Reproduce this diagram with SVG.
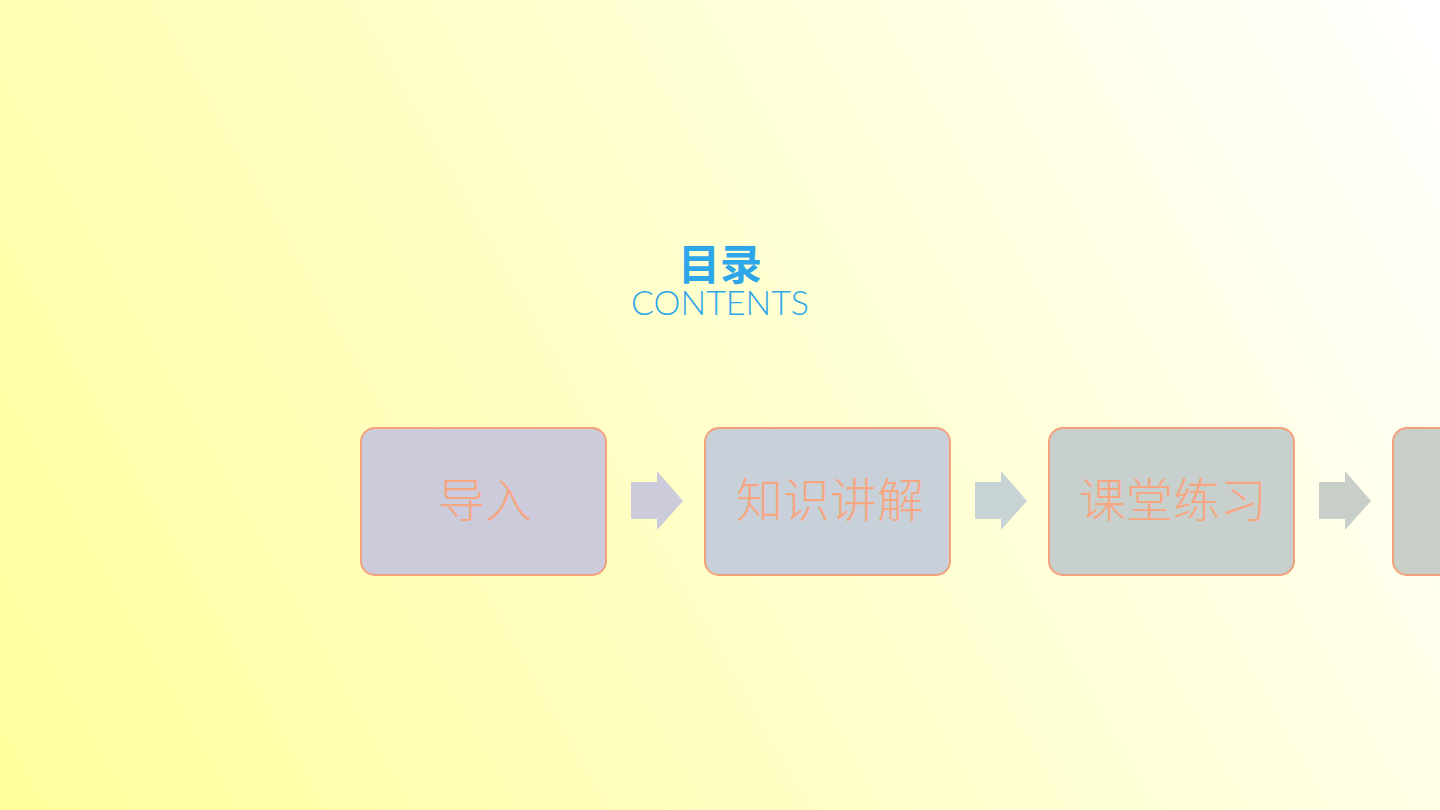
<svg xmlns="http://www.w3.org/2000/svg" width="1440" height="810" viewBox="0 0 1440 810">
<defs>
<linearGradient id="bg" x1="0" y1="810" x2="1440" y2="0" gradientUnits="userSpaceOnUse">
<stop offset="0" stop-color="#FFFF9C"/>
<stop offset="0.5" stop-color="#FFFFCC"/>
<stop offset="1" stop-color="#FFFFFF"/>
</linearGradient>
<style>
.box{stroke:#F4A07C;stroke-width:2}
.lbl{font-family:"Noto Sans CJK SC",sans-serif;font-size:47px;font-weight:300;fill:#F7A682;text-anchor:middle}
</style>
</defs>
<rect x="0" y="0" width="1440" height="810" fill="url(#bg)"/>
<g id="title">
<text x="720" y="280" font-family="'Noto Sans CJK SC',sans-serif" font-weight="700" font-size="42" fill="#2EA6EA" text-anchor="middle">目录</text>
<text x="720" y="315" font-family="Lato,'DejaVu Sans',sans-serif" font-weight="300" font-size="33" fill="#2EA6EA" text-anchor="middle" textLength="178" lengthAdjust="spacingAndGlyphs">CONTENTS</text>
</g>
<g id="node1">
<rect class="box" x="361" y="428" width="245" height="147" rx="14" fill="#CBCBDC"/>
<text class="lbl" x="485" y="517">导入</text>
</g>
<g id="node2">
<rect class="box" x="705" y="428" width="245" height="147" rx="14" fill="#C8D1D9"/>
<text class="lbl" x="830" y="517">知识讲解</text>
</g>
<g id="node3">
<rect class="box" x="1049" y="428" width="245" height="147" rx="14" fill="#C8D0CD"/>
<text class="lbl" x="1173" y="517">课堂练习</text>
</g>
<g id="node4">
<rect class="box" x="1393" y="428" width="245" height="147" rx="14" fill="#C8CFC6"/>
</g>
<g id="connectors">
<polygon points="631,482 657,482 657,471 683,501 657,530 657,519 631,519" fill="#CBCBDC"/>
<polygon points="975,482 1001,482 1001,471 1027,501 1001,530 1001,519 975,519" fill="#C8D3D5"/>
<polygon points="1319,482 1345,482 1345,471 1371,501 1345,530 1345,519 1319,519" fill="#C8CFC8"/>
</g>
</svg>
